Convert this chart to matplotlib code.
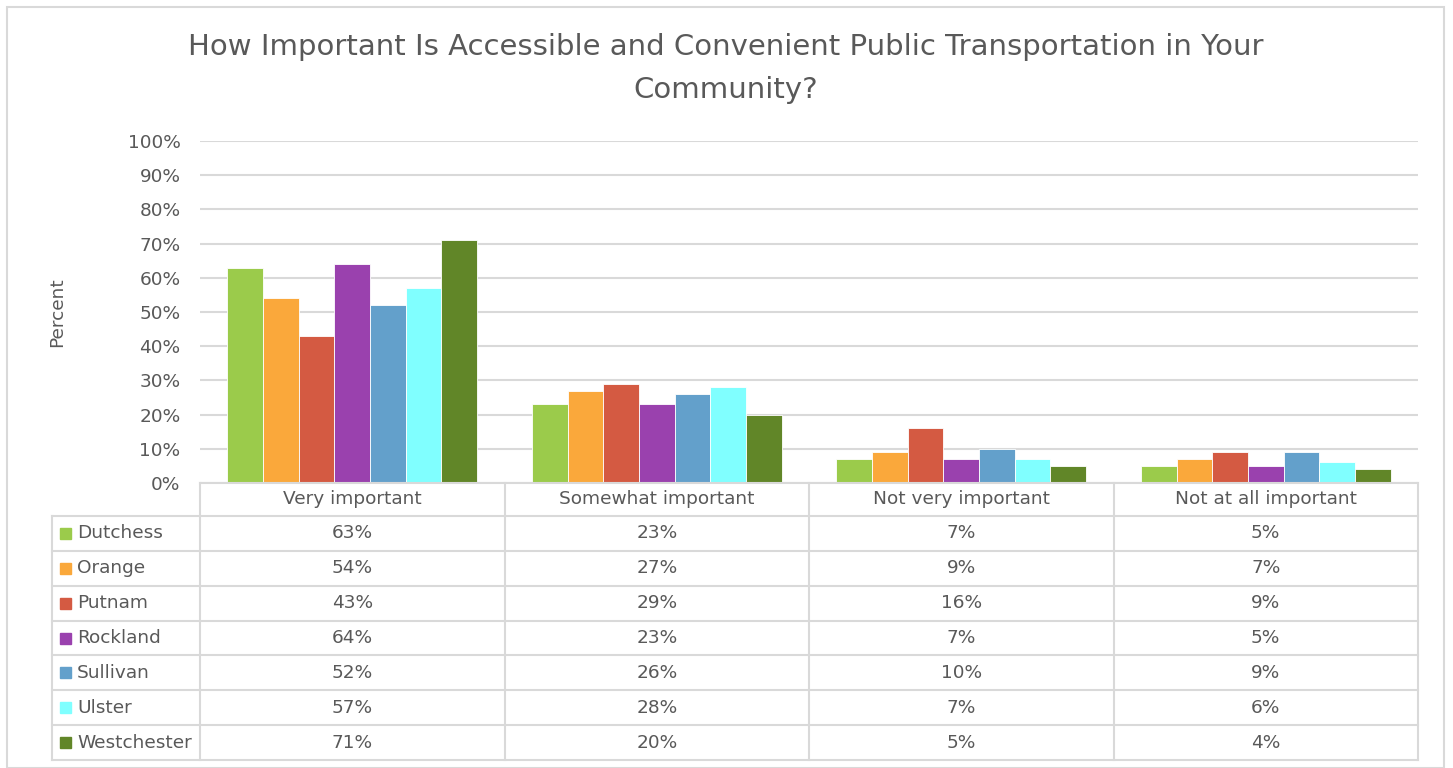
import matplotlib
matplotlib.use("Agg")
import matplotlib.pyplot as plt
from matplotlib.patches import Rectangle
from matplotlib.ticker import MultipleLocator, FuncFormatter

plt.rcParams['font.family'] = ['DejaVu Sans']

title = "How Important Is Accessible and Convenient Public Transportation in Your\nCommunity?"
categories = ["Very important", "Somewhat important", "Not very important", "Not at all important"]
counties = ["Dutchess", "Orange", "Putnam", "Rockland", "Sullivan", "Ulster", "Westchester"]
dutchess = [63, 23, 7, 5]
orange = [54, 27, 9, 7]
putnam = [43, 29, 16, 9]
rockland = [64, 23, 7, 5]
sullivan = [52, 26, 10, 9]
ulster = [57, 28, 7, 6]
westchester = [71, 20, 5, 4]
series = [dutchess, orange, putnam, rockland, sullivan, ulster, westchester]
colors = ["#9BCB4B", "#FAA83B", "#D45A42", "#9A41AE", "#63A0CB", "#80FFFF", "#618628"]

W, H = 1453, 768
fig = plt.figure(figsize=(W / 100, H / 100), dpi=100)
TXT = "#595959"
GRID = "#D9D9D9"
FS = 13.3

# outer border
fig.patches.append(Rectangle((7 / W, 0), (1444 - 7) / W, 1 - 7 / H, transform=fig.transFigure,
                             fill=False, edgecolor=GRID, lw=1.5))

# main axes
x0, x1, ytop, ybot = 200, 1418, 141, 483
ax = fig.add_axes([x0 / W, 1 - ybot / H, (x1 - x0) / W, (ybot - ytop) / H])
n = len(series)
group = 0.82
bw = group / n
for i, (vals, c) in enumerate(zip(series, colors)):
    xs = [k - group / 2 + bw * (i + 0.5) for k in range(len(categories))]
    ax.bar(xs, [v / 100 for v in vals], width=bw, color=c, edgecolor="white", linewidth=0.6, zorder=3)
ax.set_xlim(-0.5, len(categories) - 0.5)
ax.set_ylim(0, 1)
ax.yaxis.set_major_locator(MultipleLocator(0.1))
ax.yaxis.set_major_formatter(FuncFormatter(lambda v, p: f"{v * 100:.0f}%"))
ax.grid(axis="y", color=GRID, lw=1.5, zorder=0)
for s in ax.spines.values():
    s.set_visible(False)
ax.tick_params(axis="y", length=0, labelsize=FS, labelcolor=TXT, pad=14)
ax.tick_params(axis="x", length=0, labelbottom=False)
ax.set_ylabel("Percent", fontsize=FS, color=TXT, labelpad=44)

# title
fig.text(726 / W, 1 - 47 / H, title.split("\n")[0], ha="center", va="center", fontsize=21, color=TXT)
fig.text(726 / W, 1 - 90 / H, title.split("\n")[1], ha="center", va="center", fontsize=21, color=TXT)

# data table
tl = 52
tb = 760
tax = fig.add_axes([tl / W, 1 - tb / H, (x1 - tl) / W, (tb - ybot) / H])
left = -0.5 - (x0 - tl) / ((x1 - x0) / len(categories))
tax.set_xlim(left, len(categories) - 0.5)
header_h = 33
row_h = (tb - ybot - header_h) / len(counties)
tax.set_ylim(tb, ybot)
tax.axis("off")
lk = dict(color=GRID, lw=1.5, clip_on=False)
for k in range(len(categories) + 1):
    tax.plot([k - 0.5, k - 0.5], [ybot, tb], **lk)
tax.plot([left, left], [ybot + header_h, tb], **lk)
tax.plot([-0.5, len(categories) - 0.5], [ybot, ybot], **lk)
for r in range(len(counties) + 1):
    y = ybot + header_h + r * row_h
    tax.plot([left, len(categories) - 0.5], [y, y], **lk)
for k, cat in enumerate(categories):
    tax.text(k, ybot + header_h / 2, cat, ha="center", va="center", fontsize=FS, color=TXT)
sq = 11
for r, (name, vals, c) in enumerate(zip(counties, series, colors)):
    yc = ybot + header_h + (r + 0.5) * row_h
    fig.patches.append(Rectangle(((tl + 8) / W, 1 - (yc + sq / 2) / H), sq / W, sq / H,
                                 transform=fig.transFigure, color=c))
    fig.text((tl + 25) / W, 1 - yc / H, name, ha="left", va="center", fontsize=FS, color=TXT)
    for k, v in enumerate(vals):
        tax.text(k, yc, f"{v}%", ha="center", va="center", fontsize=FS, color=TXT)

fig.savefig("out.png", dpi=100)
